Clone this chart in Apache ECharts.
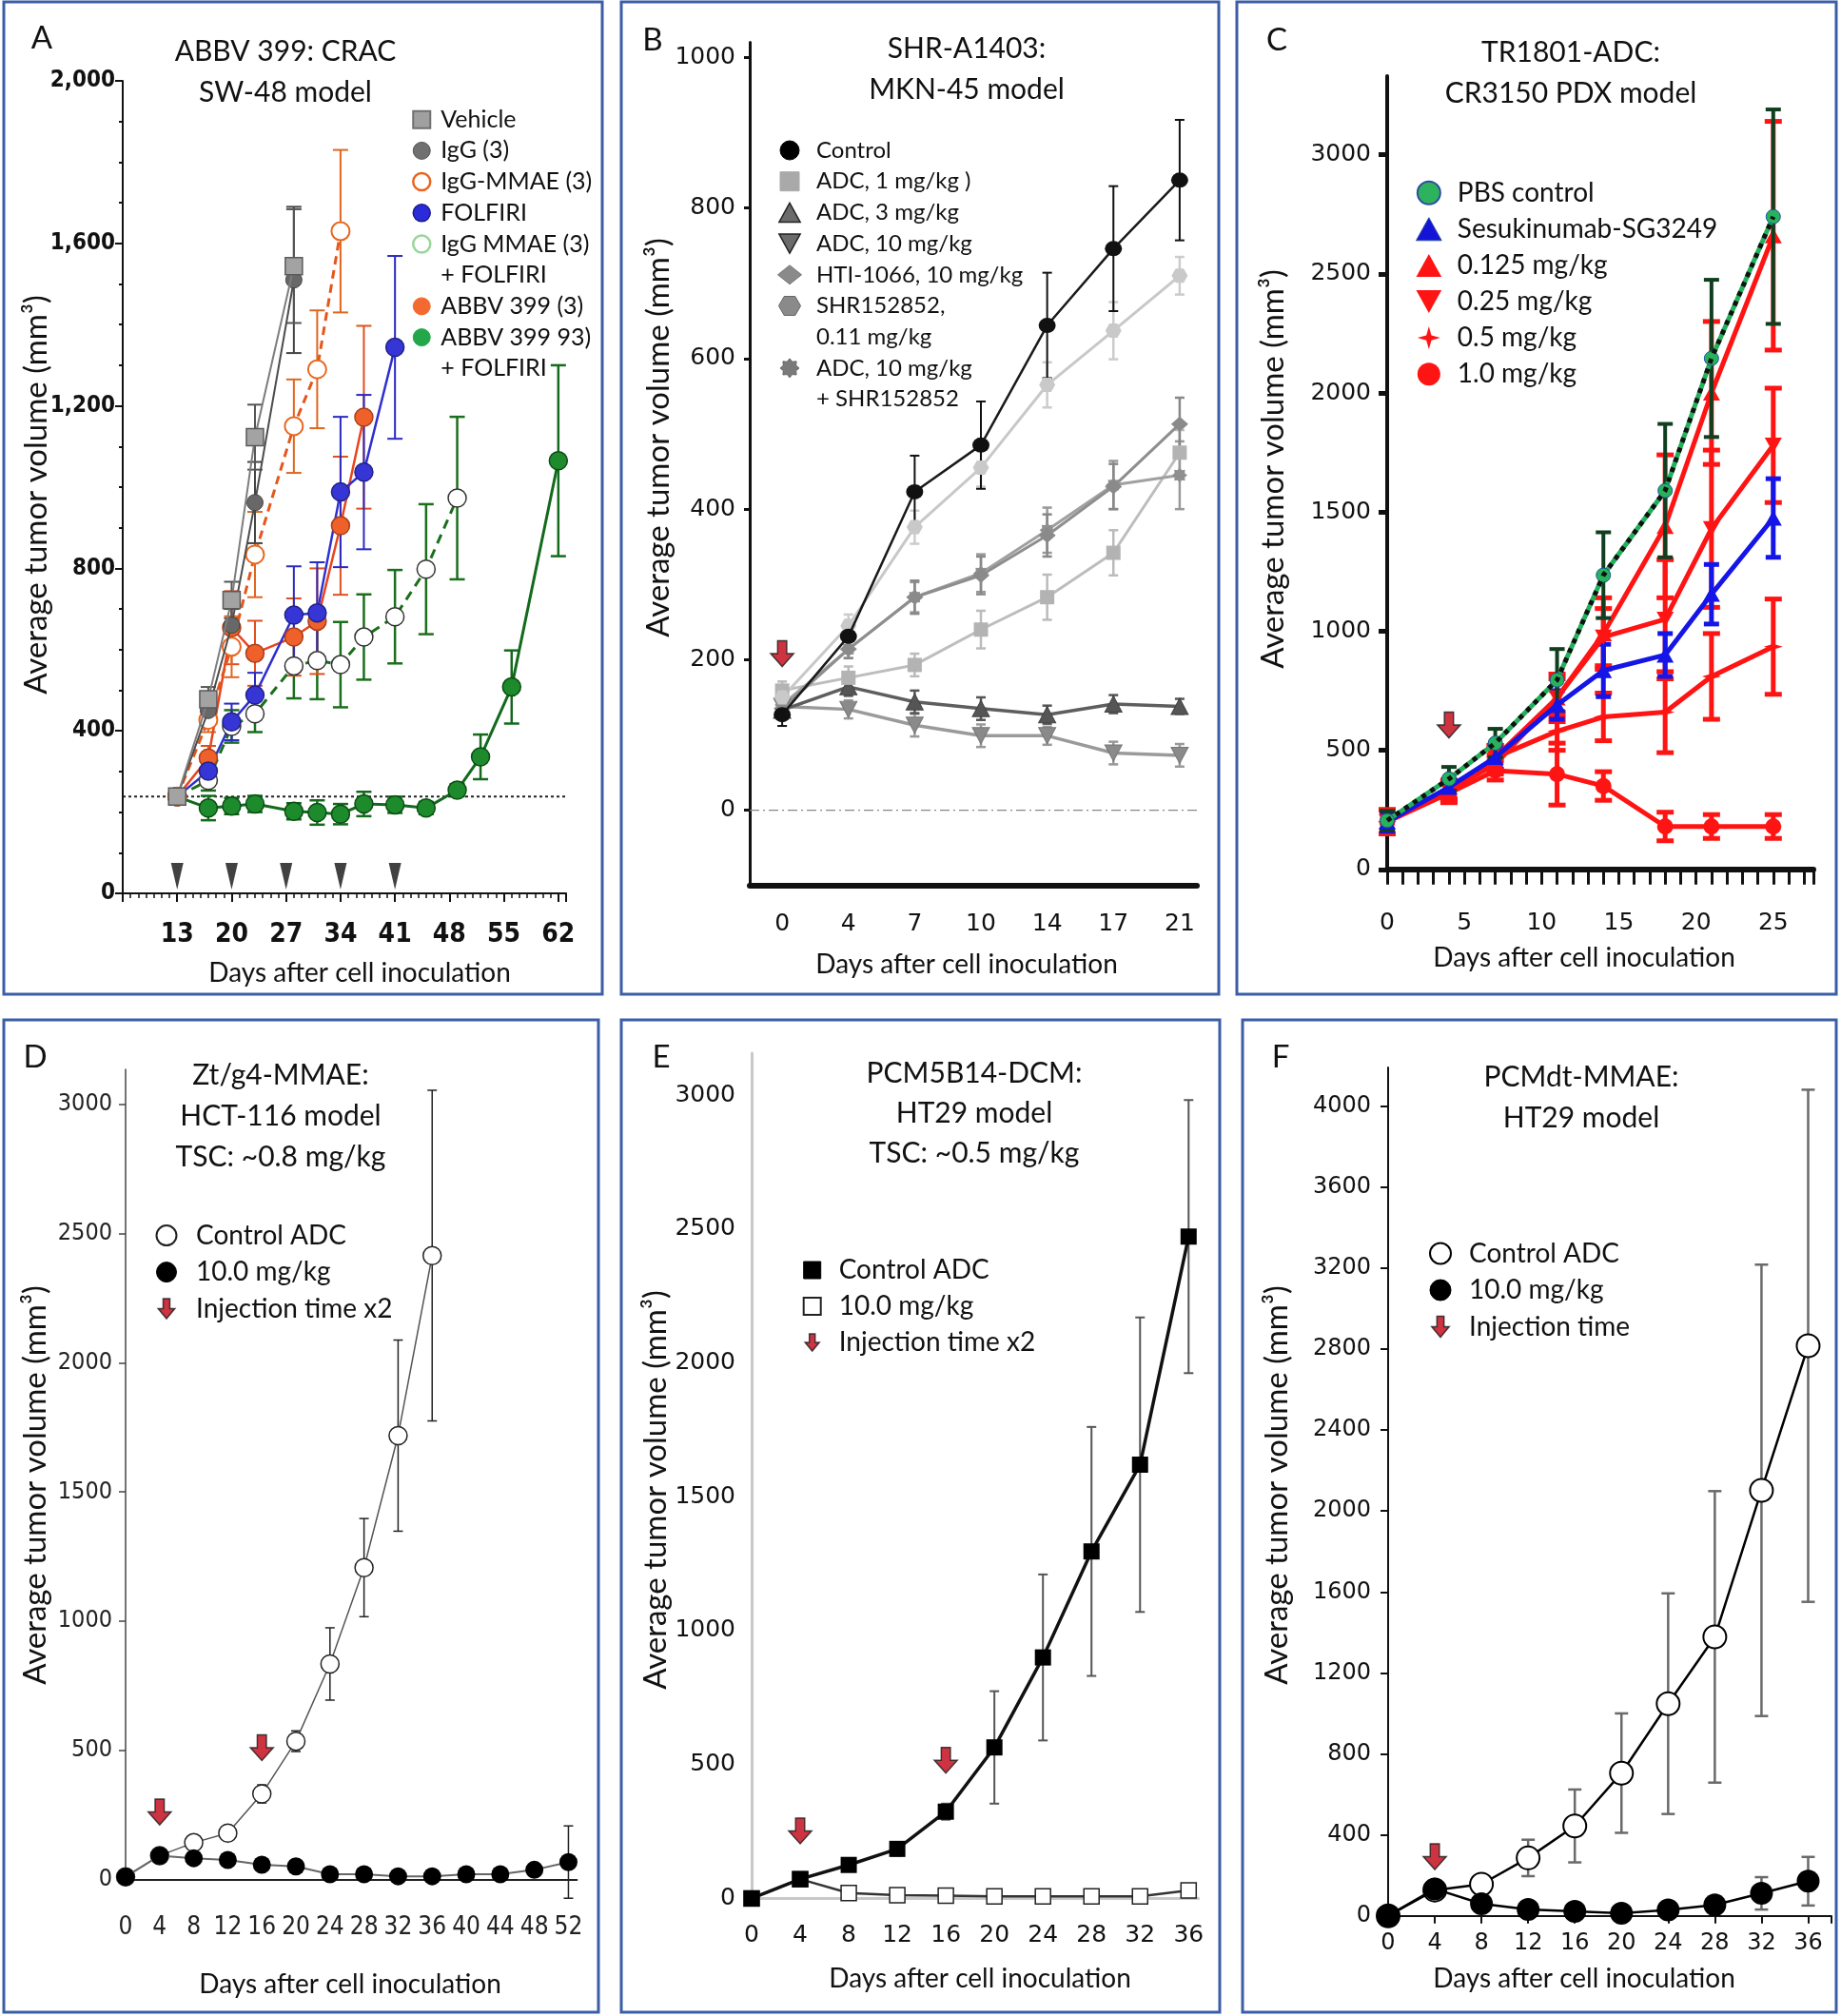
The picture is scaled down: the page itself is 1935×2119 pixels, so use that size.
<!DOCTYPE html>
<html><head><meta charset="utf-8">
<script src="https://cdn.jsdelivr.net/npm/echarts@6/dist/echarts.min.js"></script>
<style>html,body{margin:0;padding:0;background:#fff}#c{width:1935px;height:2119px}</style>
</head><body><div id="c"></div>
<script>
// ================= DATA =================
// Panel A
const A_days = [13,17,20,23,28,31,34,37,41,45,49,52,56,62];
const A_xTicks = [13,20,27,34,41,48,55,62];
const A_yTicks = [0,400,800,1200,1600,2000];
const A_vehicle = [238,478,722,1123,1544];
const A_vehicleErr = [10,30,45,80,140];
const A_igg = [238,450,660,962,1510];
const A_iggErr = [10,30,40,100,180];
const A_iggMmae = [238,427,607,834,1150,1290,1630];
const A_iggMmaeErr = [10,30,75,105,115,145,200];
const A_folfiri = [238,301,422,488,685,690,988,1037,1344];
const A_folfiriErr = [10,25,45,55,120,125,185,190,225];
const A_abbv = [238,333,654,591,631,670,905,1172];
const A_abbvErr = [10,30,90,80,95,130,170,225];
const A_iggMmaeFol = [238,278,411,442,560,573,563,631,681,798,973];
const A_iggMmaeFolErr = [10,25,40,45,80,95,105,105,115,160,200];
const A_abbvFol = [238,210,215,220,202,199,195,220,218,210,254,336,508,1065];
const A_abbvFolErr = [10,30,20,20,20,30,25,30,20,15,15,55,90,235];
const A_doseDays = [13,20,27,34,41];
const A_doseMark = 42;
const A_baseline = 238;
// Panel B
const B_days = [0,4,7,10,14,17,21];
const B_yTicks = [0,200,400,600,800,1000];
const B_control = [127,231,423,485,644,746,837];
const B_controlErr = [15,15,48,58,70,83,80];
const B_adc1 = [159,176,193,240,283,342,475];
const B_adc1Err = [12,15,15,25,30,30,30];
const B_adc3 = [133,164,144,135,127,141,138];
const B_adc3Err = [10,12,15,15,12,12,10];
const B_adc10 = [138,134,113,99,99,76,73];
const B_adc10Err = [10,12,15,15,12,15,15];
const B_hti = [135,214,283,312,365,430,513];
const B_htiErr = [10,12,22,25,28,30,35];
const B_shr = [150,245,376,455,565,637,710];
const B_shrErr = [12,15,22,25,30,38,25];
const B_combo = [140,214,283,315,372,432,445];
const B_comboErr = [10,12,20,25,30,32,45];
const B_arrowIdx = [0];
const B_arrowY = [208];
// Panel C
const C_days = [0,4,7,11,14,18,21,25];
const C_xTicks = [0,5,10,15,20,25];
const C_yTicks = [0,500,1000,1500,2000,2500,3000];
const C_pbs = [205,380,530,795,1235,1590,2145,2740];
const C_pbsErr = [40,50,60,130,180,280,330,450];
const C_sesu = [200,345,470,690,835,900,1155,1475];
const C_sesuErr = [40,30,40,60,110,90,125,165];
const C_d0125 = [200,335,440,720,990,1440,2000,2660];
const C_d0125Err = [50,40,40,80,150,300,300,480];
const C_d025 = [200,330,470,720,975,1050,1430,1780];
const C_d025Err = [50,40,50,100,120,250,330,240];
const C_d05 = [200,330,470,580,640,660,810,935];
const C_d05Err = [50,40,50,80,100,170,180,200];
const C_d1 = [200,320,415,400,350,180,180,180];
const C_d1Err = [50,40,40,130,60,60,50,50];
const C_arrowDays = [4];
const C_arrowY = [606];
// Panel D
const D_days = [0,4,8,12,16,20,24,28,32,36,40,44,48,52];
const D_yTicks = [0,500,1000,1500,2000,2500,3000];
const D_control = [10,92,142,179,331,535,834,1207,1718,2415];
const D_controlErr = [5,15,15,20,35,40,140,190,370,640];
const D_dose10 = [10,92,82,75,57,50,20,20,12,12,20,20,37,67];
const D_dose10Err = [5,15,15,15,10,10,10,8,8,8,8,8,10,140];
const D_arrowDays = [4,16];
const D_arrowY = [261,510];
// Panel E
const E_days = [0,4,8,12,16,20,24,28,32,36];
const E_yTicks = [0,500,1000,1500,2000,2500,3000];
const E_control = [0,72,125,185,324,564,900,1296,1620,2472];
const E_controlErr = [10,15,20,25,30,210,310,465,550,510];
const E_dose10 = [0,72,20,12,10,8,8,8,8,30];
const E_dose10Err = [0,10,10,10,10,10,10,10,10,15];
const E_arrowDays = [4,16];
const E_arrowY = [252,516];
// Panel F
const F_days = [0,4,8,12,16,20,24,28,32,36];
const F_yTicks = [0,400,800,1200,1600,2000,2400,2800,3200,3600,4000];
const F_control = [0,127,156,286,444,705,1048,1378,2102,2816];
const F_controlErr = [0,10,15,90,180,295,545,720,1115,1265];
const F_dose10 = [0,133,60,32,22,13,29,54,111,171];
const F_dose10Err = [0,10,10,8,8,5,10,15,80,120];
const F_arrowDays = [4];
const F_arrowY = [292];

// ================= STYLE =================
const F_SANS = 'Lato, "Open Sans", "Noto Sans", sans-serif';
const F_NARROW = '"Liberation Sans Narrow", "Arial Narrow", "DejaVu Sans Condensed", "Liberation Sans", sans-serif';
const F_VERD = '"DejaVu Sans", Verdana, sans-serif';
const FRAME = '#3b5ea6';
const ARROW = 'path://M6,0 L14,0 L14,12 L20,12 L10,24 L0,12 L6,12 Z';
const RECT = 'path://M0,0 L10,0 L10,10 L0,10 Z';
const TRI = 'path://M10,0 L20,18 L0,18 Z';
const DOWN_TRI = 'path://M0,0 L20,0 L10,18 Z';
const DIAMOND = 'path://M10,0 L20,8 L10,16 L0,8 Z';
const HEX = 'path://M5,0 L15,0 L20,8.66 L15,17.32 L5,17.32 L0,8.66 Z';
const STAR4 = 'path://M10,0 L12.2,7.8 L20,10 L12.2,12.2 L10,20 L7.8,12.2 L0,10 L7.8,7.8 Z';
const DOSE_TRI = 'path://M0,0 L10,0 L5,24 Z';
const GEAR = (function(){let s='path://';for(let i=0;i<16;i++){const r=i%2?7.2:10;const a=Math.PI*2*i/16;s+=(i?'L':'M')+(10+r*Math.cos(a)).toFixed(2)+','+(10+r*Math.sin(a)).toFixed(2)+' ';}return s+'Z';})();
const plain = v => String(v);

function pts(xs, ys){ return ys.map((y,i)=>[xs[i], y]); }
function line(name, g, xs, ys, o){
  return Object.assign({type:'line', name:name, xAxisIndex:g, yAxisIndex:g, data:pts(xs,ys), animation:false, silent:true, z:3, showAllSymbol:true}, o);
}
function err(g, xs, ys, es, color, width, cap, z){
  return {type:'custom', xAxisIndex:g, yAxisIndex:g, silent:true, animation:false, z:z||2, clip:false,
    data: ys.map((y,i)=>[xs[i], y-es[i], y+es[i]]),
    encode:{x:0, y:[1,2]},
    renderItem:function(p, api){
      const x = api.value(0);
      const lo = api.coord([x, api.value(1)]), hi = api.coord([x, api.value(2)]);
      const c = cap/2;
      const st = ()=>({stroke:color, lineWidth:width});
      return {type:'group', children:[
        {type:'line', shape:{x1:lo[0], y1:lo[1], x2:hi[0], y2:hi[1]}, style:st()},
        {type:'line', shape:{x1:lo[0]-c, y1:lo[1], x2:lo[0]+c, y2:lo[1]}, style:st()},
        {type:'line', shape:{x1:hi[0]-c, y1:hi[1], x2:hi[0]+c, y2:hi[1]}, style:st()}
      ]};
    }};
}
function dummy(name){ return {type:'line', name:name, xAxisIndex:0, yAxisIndex:0, data:[], silent:true}; }
function arrows(name, g, xs, ys){
  return {type:'scatter', name:name, xAxisIndex:g, yAxisIndex:g, data:pts(xs,ys), symbol:ARROW, symbolSize:[24,27],
    itemStyle:{color:'#c00010', borderColor:'#1a1a1a', borderWidth:1.5}, z:6, silent:true, animation:false};
}
const ARROW_LEG = {icon:ARROW, itemStyle:{color:'#c00010', borderColor:'#1a1a1a', borderWidth:1.5}};
const NONE_LEG = {icon:'circle', itemStyle:{color:'rgba(0,0,0,0)', borderColor:'rgba(0,0,0,0)', borderWidth:0}};

// ================= GRIDS / AXES =================
const grids = [
  {left:129, top:85, width:466, height:854},
  {left:788, top:44.5, width:470, height:886.3},
  {left:1458, top:80, width:448, height:833.8},
  {left:132, top:1124, width:474.4, height:851.4},
  {left:790, top:1107, width:469.5, height:888.4},
  {left:1459, top:1122, width:466, height:891.7}
].map(g => Object.assign({show:false, containLabel:false, outerBoundsMode:'none'}, g));

function aline(color, width){ return {show:true, onZero:false, lineStyle:{color:color, width:width}}; }
const lab = (o) => Object.assign({color:'#111'}, o);

const xAxes = [
  {gridIndex:0, type:'value', min:6, max:63, interval:7, axisLine:aline('#111',2),
   axisTick:{show:true, length:9, lineStyle:{color:'#111', width:2}},
   minorTick:{show:true, splitNumber:7, length:5, lineStyle:{color:'#111', width:1.5}},
   axisLabel:lab({margin:30, fontFamily:F_NARROW, fontWeight:'bold', fontSize:28, formatter:v=>A_xTicks.indexOf(v)>=0?String(v):''}),
   splitLine:{show:false}, minorSplitLine:{show:false}},
  {gridIndex:1, type:'value', min:-0.49, max:6.26, axisLine:aline('#111',6),
   axisTick:{show:false},
   axisLabel:lab({margin:28, fontFamily:F_VERD, fontSize:25, customValues:B_days.map((d,i)=>i), formatter:v=>String(B_days[Math.round(v)])}),
   splitLine:{show:false}},
  {gridIndex:2, type:'value', min:0, max:27.6, interval:5, axisLine:aline('#111',6),
   axisTick:{show:true, length:16, lineStyle:{color:'#111', width:3}},
   minorTick:{show:true, splitNumber:5, length:16, lineStyle:{color:'#111', width:3}},
   axisLabel:lab({margin:44, fontFamily:F_VERD, fontSize:25, formatter:v=>C_xTicks.indexOf(v)>=0?String(v):''}),
   splitLine:{show:false}},
  {gridIndex:3, type:'value', min:0, max:53, interval:4, axisLine:aline('#222',2),
   axisTick:{show:false},
   axisLabel:lab({margin:38, color:'#222', fontFamily:F_NARROW, fontSize:26, formatter:v=>D_days.indexOf(v)>=0?String(v):''}),
   splitLine:{show:false}},
  {gridIndex:4, type:'value', min:0, max:36.8, interval:4, axisLine:aline('#c8c8c8',3),
   axisTick:{show:false},
   axisLabel:lab({margin:27, fontFamily:F_VERD, fontSize:25, formatter:v=>E_days.indexOf(v)>=0?String(v):''}),
   splitLine:{show:false}},
  {gridIndex:5, type:'value', min:0, max:38, interval:4, axisLine:aline('#111',2),
   axisTick:{show:true, length:8, lineStyle:{color:'#111', width:2}},
   axisLabel:lab({margin:17, fontFamily:F_VERD, fontSize:24, formatter:v=>F_days.indexOf(v)>=0?String(v):''}),
   splitLine:{show:false}}
];
const yAxes = [
  {gridIndex:0, type:'value', min:0, max:2000, interval:400, axisLine:aline('#111',2),
   axisTick:{show:true, length:8, lineStyle:{color:'#111', width:2}},
   minorTick:{show:true, splitNumber:4, length:4, lineStyle:{color:'#111', width:2}},
   axisLabel:lab({margin:8, fontFamily:F_NARROW, fontWeight:'bold', fontSize:24, formatter:v=>A_yTicks.indexOf(v)>=0?v.toLocaleString('en-US'):''}),
   splitLine:{show:false}, minorSplitLine:{show:false}},
  {gridIndex:1, type:'value', min:-100, max:1020, axisLine:aline('#111',3),
   axisTick:{show:true, length:6, customValues:B_yTicks, lineStyle:{color:'#111', width:3}},
   axisLabel:lab({margin:15, fontFamily:F_VERD, fontSize:25, customValues:B_yTicks, formatter:plain}),
   splitLine:{show:false}},
  {gridIndex:2, type:'value', min:0, max:3330, axisLine:aline('#111',4),
   axisTick:{show:true, length:9, customValues:C_yTicks, lineStyle:{color:'#111', width:5}},
   axisLabel:lab({margin:17, fontFamily:F_VERD, fontSize:25, customValues:C_yTicks, formatter:plain}),
   splitLine:{show:false}},
  {gridIndex:3, type:'value', min:0, max:3136, axisLine:aline('#444',1.5),
   axisTick:{show:true, length:7, customValues:D_yTicks, lineStyle:{color:'#444', width:1.5}},
   axisLabel:lab({margin:14, color:'#222', fontFamily:F_NARROW, fontSize:25, customValues:D_yTicks, formatter:plain}),
   splitLine:{show:false}},
  {gridIndex:4, type:'value', min:0, max:3157, axisLine:aline('#c8c8c8',3),
   axisTick:{show:false},
   axisLabel:lab({margin:17, fontFamily:F_VERD, fontSize:25, customValues:E_yTicks, formatter:plain}),
   splitLine:{show:false}},
  {gridIndex:5, type:'value', min:0, max:4191, axisLine:aline('#111',2),
   axisTick:{show:true, length:8, customValues:F_yTicks, lineStyle:{color:'#111', width:2}},
   axisLabel:lab({margin:18, fontFamily:F_VERD, fontSize:24, customValues:F_yTicks, formatter:plain}),
   splitLine:{show:false}}
];

// ================= SERIES =================
const series = [];
// --- A ---
series.push({type:'line', xAxisIndex:0, yAxisIndex:0, data:[[xAxes[0].min, A_baseline],[xAxes[0].max, A_baseline]], symbol:'none', lineStyle:{color:'#222', width:2, type:[3,3]}, z:1, silent:true, animation:false});
series.push({type:'scatter', xAxisIndex:0, yAxisIndex:0, data:A_doseDays.map(d=>[d, A_doseMark]), symbol:DOSE_TRI, symbolSize:[13,28], itemStyle:{color:'#111'}, z:3, silent:true, animation:false});
series.push(err(0, A_days, A_abbvFol, A_abbvFolErr, '#136a1d', 2.5, 16));
series.push(err(0, A_days, A_iggMmaeFol, A_iggMmaeFolErr, '#1b6e1b', 2.5, 16));
series.push(err(0, A_days, A_abbv, A_abbvErr, '#e0501e', 2, 16));
series.push(err(0, A_days, A_folfiri, A_folfiriErr, '#2a2ac0', 2, 16));
series.push(err(0, A_days, A_iggMmae, A_iggMmaeErr, '#e0661e', 2, 16));
series.push(err(0, A_days, A_igg, A_iggErr, '#444', 2, 16));
series.push(err(0, A_days, A_vehicle, A_vehicleErr, '#555', 2, 16));
series.push(line('ABBV 399 93)', 0, A_days, A_abbvFol, {symbol:'circle', symbolSize:19, itemStyle:{color:'#1d8a2c', borderColor:'#0b4d14', borderWidth:1.5}, lineStyle:{color:'#136a1d', width:3}}));
series.push(line('IgG MMAE (3)', 0, A_days, A_iggMmaeFol, {symbol:'circle', symbolSize:19, itemStyle:{color:'#fff', borderColor:'#333', borderWidth:1.5}, lineStyle:{color:'#1b6e1b', width:3, type:[10,7]}}));
series.push(line('ABBV 399 (3)', 0, A_days, A_abbv, {symbol:'circle', symbolSize:19, itemStyle:{color:'#f0602a', borderColor:'#a8401a', borderWidth:1.5}, lineStyle:{color:'#e8451e', width:2.5}}));
series.push(line('FOLFIRI', 0, A_days, A_folfiri, {symbol:'circle', symbolSize:19, itemStyle:{color:'#3636d6', borderColor:'#222288', borderWidth:1.5}, lineStyle:{color:'#2f2fd0', width:2.5}}));
series.push(line('IgG-MMAE (3)', 0, A_days, A_iggMmae, {symbol:'circle', symbolSize:19, itemStyle:{color:'#fff', borderColor:'#e8661e', borderWidth:2}, lineStyle:{color:'#e4571b', width:3, type:[9,6]}}));
series.push(line('IgG (3)', 0, A_days, A_igg, {symbol:'circle', symbolSize:17, itemStyle:{color:'#686868', borderColor:'#444', borderWidth:1}, lineStyle:{color:'#4d4d4d', width:2}, z:4}));
series.push(line('Vehicle', 0, A_days, A_vehicle, {symbol:'rect', symbolSize:18, itemStyle:{color:'#a3a3a3', borderColor:'#5a5a5a', borderWidth:1.5}, lineStyle:{color:'#7d7d7d', width:2}, z:5}));
series.push(dummy('+ FOLFIRI'));
series.push(dummy('+ FOLFIRI '));
// --- B ---
const BX = B_days.map((d,i)=>i);
series.push({type:'line', xAxisIndex:1, yAxisIndex:1, data:[[xAxes[1].min,0],[xAxes[1].max,0]], symbol:'none', lineStyle:{color:'#888', width:1.2, type:[10,4,2,4]}, z:1, silent:true, animation:false});
series.push(err(1, BX, B_adc10, B_adc10Err, '#999', 2.5, 10));
series.push(err(1, BX, B_adc3, B_adc3Err, '#555', 2.5, 10));
series.push(err(1, BX, B_adc1, B_adc1Err, '#bbb', 2.5, 10));
series.push(err(1, BX, B_combo, B_comboErr, '#999', 2.5, 10));
series.push(err(1, BX, B_hti, B_htiErr, '#888', 2.5, 10));
series.push(err(1, BX, B_shr, B_shrErr, '#ccc', 2.5, 10));
series.push(err(1, BX, B_control, B_controlErr, '#111', 2, 10));
series.push(line('ADC, 10 mg/kg', 1, BX, B_adc10, {symbol:DOWN_TRI, symbolSize:[18,17], itemStyle:{color:'#8a8a8a', borderColor:'#777', borderWidth:1}, lineStyle:{color:'#9a9a9a', width:3.5}}));
series.push(line('ADC, 3 mg/kg', 1, BX, B_adc3, {symbol:TRI, symbolSize:[18,17], itemStyle:{color:'#555', borderColor:'#444', borderWidth:1}, lineStyle:{color:'#5e5e5e', width:3.5}}));
series.push(line('ADC, 1 mg/kg )', 1, BX, B_adc1, {symbol:'rect', symbolSize:15, itemStyle:{color:'#b3b3b3'}, lineStyle:{color:'#bdbdbd', width:3}}));
series.push(line('ADC, 10 mg/kg ', 1, BX, B_combo, {symbol:GEAR, symbolSize:16, itemStyle:{color:'#8f8f8f'}, lineStyle:{color:'#a0a0a0', width:3}}));
series.push(line('HTI-1066, 10 mg/kg', 1, BX, B_hti, {symbol:'diamond', symbolSize:[18,16], itemStyle:{color:'#8a8a8a'}, lineStyle:{color:'#8e8e8e', width:3}}));
series.push(line('SHR152852,', 1, BX, B_shr, {symbol:HEX, symbolSize:[17,15], itemStyle:{color:'#c9c9c9'}, lineStyle:{color:'#c8c8c8', width:3}}));
series.push(line('Control', 1, BX, B_control, {symbol:'circle', symbolSize:[18,16], itemStyle:{color:'#111'}, lineStyle:{color:'#1a1a1a', width:2.5}, z:5}));
series.push(arrows('', 1, B_arrowIdx, B_arrowY));
series.push(dummy('0.11 mg/kg'));
series.push(dummy('+ SHR152852'));
// --- C ---
const RED = '#ff1414';
series.push(err(2, C_days, C_d1, C_d1Err, RED, 5, 18));
series.push(err(2, C_days, C_d05, C_d05Err, RED, 5, 18));
series.push(err(2, C_days, C_d025, C_d025Err, RED, 5, 18));
series.push(err(2, C_days, C_d0125, C_d0125Err, RED, 5, 18));
series.push(err(2, C_days, C_sesu, C_sesuErr, '#1515e8', 5, 16, 3));
series.push(err(2, C_days, C_pbs, C_pbsErr, '#0f3f1f', 4, 16, 4));
series.push(line('1.0 mg/kg', 2, C_days, C_d1, {symbol:'circle', symbolSize:17, itemStyle:{color:RED}, lineStyle:{color:RED, width:5}}));
series.push(line('0.5 mg/kg', 2, C_days, C_d05, {symbol:STAR4, symbolSize:20, itemStyle:{color:RED}, lineStyle:{color:RED, width:5}}));
series.push(line('0.25 mg/kg', 2, C_days, C_d025, {symbol:DOWN_TRI, symbolSize:[18,16], itemStyle:{color:RED}, lineStyle:{color:RED, width:5}}));
series.push(line('0.125 mg/kg', 2, C_days, C_d0125, {symbol:TRI, symbolSize:[18,16], itemStyle:{color:RED}, lineStyle:{color:RED, width:5}}));
series.push(line('Sesukinumab-SG3249', 2, C_days, C_sesu, {symbol:TRI, symbolSize:[18,16], itemStyle:{color:'#1515e8'}, lineStyle:{color:'#1515e8', width:5}, z:4}));
series.push(line('PBS control', 2, C_days, C_pbs, {symbol:'circle', symbolSize:15, itemStyle:{color:'#26b35c', borderColor:'#1e4fa0', borderWidth:1}, lineStyle:{color:'#22b05a', width:5}, z:5}));
series.push(line('', 2, C_days, C_pbs, {symbol:'none', lineStyle:{color:'#111', width:5, type:[5,6]}, z:6}));
series.push(arrows('', 2, C_arrowDays, C_arrowY));
// --- D ---
series.push(err(3, D_days, D_control, D_controlErr, '#222', 1.5, 10));
series.push(err(3, D_days, D_dose10, D_dose10Err, '#222', 1.5, 10));
series.push(line('Control ADC', 3, D_days, D_control, {symbol:'circle', symbolSize:19, itemStyle:{color:'#fff', borderColor:'#222', borderWidth:1.5}, lineStyle:{color:'#555', width:1.5}}));
series.push(line('10.0 mg/kg', 3, D_days, D_dose10, {symbol:'circle', symbolSize:19, itemStyle:{color:'#000'}, lineStyle:{color:'#666', width:2}, z:4}));
series.push(arrows('Injection time x2', 3, D_arrowDays, D_arrowY));
// --- E ---
series.push(err(4, E_days, E_control, E_controlErr, '#555', 2, 10));
series.push(err(4, E_days, E_dose10, E_dose10Err, '#555', 1.5, 10));
series.push(line('10.0 mg/kg ', 4, E_days, E_dose10, {symbol:'rect', symbolSize:16, itemStyle:{color:'#fff', borderColor:'#222', borderWidth:1.5}, lineStyle:{color:'#333', width:2.5}}));
series.push(line('Control ADC ', 4, E_days, E_control, {symbol:'rect', symbolSize:17, itemStyle:{color:'#000'}, lineStyle:{color:'#111', width:3.5}, z:4}));
series.push(arrows('Injection time x2 ', 4, E_arrowDays, E_arrowY));
// --- F ---
series.push(err(5, F_days, F_control, F_controlErr, '#6a6a6a', 2.5, 14));
series.push(err(5, F_days, F_dose10, F_dose10Err, '#6a6a6a', 2.5, 14));
series.push(line('Control ADC  ', 5, F_days, F_control, {symbol:'circle', symbolSize:24, itemStyle:{color:'#fff', borderColor:'#000', borderWidth:2}, lineStyle:{color:'#000', width:2.5}}));
series.push(line('10.0 mg/kg  ', 5, F_days, F_dose10, {symbol:'circle', symbolSize:24, itemStyle:{color:'#000'}, lineStyle:{color:'#000', width:2.5}, z:4}));
series.push(arrows('Injection time', 5, F_arrowDays, F_arrowY));

// ================= LEGENDS =================
// cx: centre of the icon column, cy: centre of the first row
function legend(cx, cy, iw, ih, fs, lh, data){
  return {show:true, orient:'vertical', left:cx - ih/2, top:cy - lh/2, itemWidth:iw, itemHeight:ih, itemGap:0, padding:0,
    selectedMode:false, symbolKeepAspect:true,
    textStyle:{fontFamily:F_SANS, fontSize:fs, color:'#111', lineHeight:lh}, data:data};
}
const legends = [
  legend(442, 125.7, 30, 18, 25, 32.7, [
    {name:'Vehicle', icon:RECT, itemStyle:{color:'#a0a0a0', borderColor:'#707070', borderWidth:2}},
    {name:'IgG (3)', icon:'circle', itemStyle:{color:'#707070', borderColor:'#555', borderWidth:1}},
    {name:'IgG-MMAE (3)', icon:'circle', itemStyle:{color:'#fff', borderColor:'#e8661e', borderWidth:2.5}},
    {name:'FOLFIRI', icon:'circle', itemStyle:{color:'#2b2bd9', borderColor:'#1a1a90', borderWidth:1.5}},
    {name:'IgG MMAE (3)', icon:'circle', itemStyle:{color:'#fff', borderColor:'#9ad59a', borderWidth:2.5}},
    Object.assign({name:'+ FOLFIRI'}, NONE_LEG),
    {name:'ABBV 399 (3)', icon:'circle', itemStyle:{color:'#f26a30', borderColor:'#f26a30', borderWidth:1}},
    {name:'ABBV 399 93)', icon:'circle', itemStyle:{color:'#22a84a', borderColor:'#22a84a', borderWidth:1}},
    Object.assign({name:'+ FOLFIRI '}, NONE_LEG)
  ]),
  legend(827, 158, 46, 20, 24, 32.7, [
    {name:'Control', icon:'circle', itemStyle:{color:'#000', borderColor:'#000', borderWidth:1}},
    {name:'ADC, 1 mg/kg )', icon:RECT, itemStyle:{color:'#a9a9a9', borderColor:'#a9a9a9', borderWidth:1}},
    {name:'ADC, 3 mg/kg', icon:TRI, itemStyle:{color:'#6b6b6b', borderColor:'#222', borderWidth:1.5}},
    {name:'ADC, 10 mg/kg', icon:DOWN_TRI, itemStyle:{color:'#6b6b6b', borderColor:'#222', borderWidth:1.5}},
    {name:'HTI-1066, 10 mg/kg', icon:DIAMOND, itemStyle:{color:'#8a8a8a', borderColor:'#777', borderWidth:1}},
    {name:'SHR152852,', icon:HEX, itemStyle:{color:'#8a8a8a', borderColor:'#666', borderWidth:1}},
    Object.assign({name:'0.11 mg/kg'}, NONE_LEG),
    {name:'ADC, 10 mg/kg ', icon:GEAR, itemStyle:{color:'#7a7a7a', borderColor:'#666', borderWidth:1}},
    Object.assign({name:'+ SHR152852'}, NONE_LEG)
  ]),
  legend(1500, 202.7, 50, 24, 28, 38.1, [
    {name:'PBS control', icon:'circle', itemStyle:{color:'#2db35d', borderColor:'#2c4f9e', borderWidth:2}},
    {name:'Sesukinumab-SG3249', icon:TRI, itemStyle:{color:'#1414d8', borderColor:'#2c4f9e', borderWidth:1}},
    {name:'0.125 mg/kg', icon:TRI, itemStyle:{color:RED, borderColor:RED, borderWidth:0}},
    {name:'0.25 mg/kg', icon:DOWN_TRI, itemStyle:{color:RED, borderColor:RED, borderWidth:0}},
    {name:'0.5 mg/kg', icon:STAR4, itemStyle:{color:RED, borderColor:RED, borderWidth:0}},
    {name:'1.0 mg/kg', icon:'circle', itemStyle:{color:RED, borderColor:RED, borderWidth:0}}
  ]),
  legend(174, 1298.6, 52, 21, 28, 38.5, [
    {name:'Control ADC', icon:'circle', itemStyle:{color:'#fff', borderColor:'#222', borderWidth:2}},
    {name:'10.0 mg/kg', icon:'circle', itemStyle:{color:'#000', borderColor:'#000', borderWidth:1}},
    Object.assign({name:'Injection time x2'}, ARROW_LEG)
  ]),
  legend(852.7, 1335, 46, 18, 28, 38, [
    {name:'Control ADC ', icon:RECT, itemStyle:{color:'#000', borderColor:'#000', borderWidth:1}},
    {name:'10.0 mg/kg ', icon:RECT, itemStyle:{color:'#fff', borderColor:'#222', borderWidth:2}},
    Object.assign({name:'Injection time x2 '}, ARROW_LEG)
  ]),
  legend(1513, 1317.5, 50, 22, 28, 38.5, [
    {name:'Control ADC  ', icon:'circle', itemStyle:{color:'#fff', borderColor:'#000', borderWidth:2}},
    {name:'10.0 mg/kg  ', icon:'circle', itemStyle:{color:'#000', borderColor:'#000', borderWidth:1}},
    Object.assign({name:'Injection time'}, ARROW_LEG)
  ])
];

// ================= TEXT / FRAMES =================
const graphics = [];
const frames = [[4,2,633,1045],[653,2,1281,1045],[1300,2,1930,1045],[4,1072,629,2115],[653,1072,1282,2115],[1306,1072,1930,2115]];
frames.forEach(f => graphics.push({type:'rect', shape:{x:f[0], y:f[1], width:f[2]-f[0], height:f[3]-f[1]}, style:{fill:'none', stroke:FRAME, lineWidth:3}, silent:true, z:10}));
function txt(t, x, y, fs, o){
  return Object.assign({type:'text', x:x, y:y, silent:true, z:10,
    style:{text:t, fill:'#111', fontSize:fs, fontFamily:F_SANS, textAlign:'center', textVerticalAlign:'middle', align:'center', verticalAlign:'middle'}}, o||{});
}
const letters = [['A',44,40],['B',686,42],['C',1342,42],['D',37,1111],['E',695,1111],['F',1346,1111]];
letters.forEach(l => graphics.push(txt(l[0], l[1], l[2], 33)));
const titles = [
  [['ABBV 399: CRAC','SW-48 model'], 300, [54,97]],
  [['SHR-A1403:','MKN-45 model'], 1016, [51,94.6]],
  [['TR1801-ADC:','CR3150 PDX model'], 1651, [55,98.6]],
  [['Zt/g4-MMAE:','HCT-116 model','TSC: ~0.8 mg/kg'], 295, [1130,1173,1216]],
  [['PCM5B14-DCM:','HT29 model','TSC: ~0.5 mg/kg'], 1024, [1128,1170,1212]],
  [['PCMdt-MMAE:','HT29 model'], 1662, [1132,1175.6]]
];
titles.forEach(t => t[0].forEach((s,i) => graphics.push(txt(s, t[1], t[2][i], 30))));
const Y_NAME = 'Average tumor volume (mm³)';
const X_NAME = 'Days after cell inoculation';
[[38,520],[692,460],[1338,493],[37,1561],[689,1566],[1342,1561]].forEach(p => graphics.push(txt(Y_NAME, p[0], p[1], 33, {rotation:Math.PI/2})));
[[378,1023],[1016,1013.5],[1665,1007],[368,2086],[1030,2080],[1665,2080]].forEach(p => graphics.push(txt(X_NAME, p[0], p[1], 28)));

const chart = echarts.init(document.getElementById('c'), null, {renderer:'canvas', width:1935, height:2119});
chart.setOption({
  animation:false,
  backgroundColor:'#ffffff',
  grid:grids, xAxis:xAxes, yAxis:yAxes,
  legend:legends, series:series, graphic:{elements:graphics}
});
</script></body></html>
